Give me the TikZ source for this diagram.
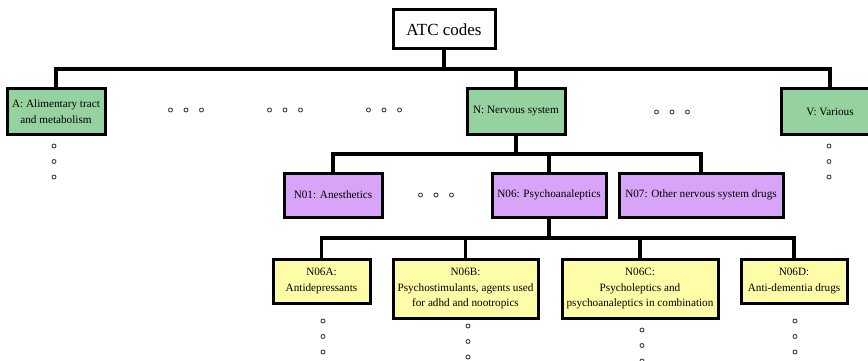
\documentclass[tikz,border=0pt]{standalone}
\usepackage{fontspec}
\setmainfont{Liberation Serif}
\definecolor{cgreen}{HTML}{96D1A0}
\definecolor{cpurple}{HTML}{D8A4F8}
\definecolor{cyellow}{HTML}{FFFCA8}
\definecolor{cdot}{HTML}{444444}
\tikzset{
  box/.style={draw=black, line width=3pt, align=center, inner sep=0pt,
    font=\fontsize{11.2}{15.5}\selectfont, text=black},
  gbox/.style={box, fill=cgreen, minimum height=45pt},
  pbox/.style={box, fill=cpurple, minimum height=44pt},
  ybox/.style={box, fill=cyellow},
  link/.style={line width=3.2pt},
  dotmark/.style={circle, draw=cdot, line width=0.9pt, minimum size=4pt, inner sep=0pt}
}
\newcommand{\hdots}[2]{%
  \node[dotmark] at (#1-15.5,#2) {};
  \node[dotmark] at (#1,#2) {};
  \node[dotmark] at (#1+15.5,#2) {};}
\newcommand{\vdotsat}[2]{%
  \node[dotmark] at (#1,#2) {};
  \node[dotmark] at (#1,#2+15.5) {};
  \node[dotmark] at (#1,#2+31) {};}
\begin{document}
\begin{tikzpicture}[x=1pt,y=-1pt]
\useasboundingbox (0,0) rectangle (868,361);
\clip (0,0) rectangle (868,361);
% bus coordinates
\coordinate (b1) at (444,69);
\coordinate (b2) at (516,154);
\coordinate (b3) at (549,238);
% nodes
\node[box, fill=white, minimum width=102pt, minimum height=39pt, font=\fontsize{17}{20}\selectfont] (atc) at (444,29.5) {ATC codes};
\node[gbox, minimum width=98pt] (A) at (56,111.5) {A: Alimentary tract\\and metabolism};
\node[gbox, minimum width=98pt] (N) at (516,111.5) {N: Nervous system};
\node[gbox, minimum width=98pt] (V) at (830,111.5) {V: Various};
\node[pbox, minimum width=98pt] (N01) at (333,195) {N01: Anesthetics};
\node[pbox, minimum width=114pt] (N06) at (549,195) {N06: Psychoanaleptics};
\node[pbox, minimum width=164pt] (N07) at (701,195) {N07: Other nervous system drugs};
\node[ybox, minimum width=97pt, minimum height=44pt] (N06A) at (321.5,281) {N06A:\\Antidepressants};
\node[ybox, minimum width=145pt, minimum height=59pt] (N06B) at (465.5,288.5) {N06B:\\Psychostimulants, agents used\\for adhd and nootropics};
\node[ybox, minimum width=156pt, minimum height=59pt] (N06C) at (640,288.5) {N06C:\\Psycholeptics and\\psychoanaleptics in combination};
\node[ybox, minimum width=106pt, minimum height=44pt] (N06D) at (794,281) {N06D:\\Anti-dementia drugs};
% connectors
\draw[link] (atc.south) -- (atc.south |- b1);
\draw[link] (A.north) |- (b1) -| (V.north);
\draw[link] (N.north) -- (N.north |- b1);
\draw[link] (N.south) -- (N.south |- b2);
\draw[link] (N01.north) |- (b2) -| (N07.north);
\draw[link] (N06.north) -- (N06.north |- b2);
\draw[link] (N06.south) -- (N06.south |- b3);
\draw[link] (N06A.north) |- (b3) -| (N06D.north);
\draw[link] (N06B.north) -- (N06B.north |- b3);
\draw[link] (N06C.north) -- (N06C.north |- b3);
% dots
\hdots{186}{110}
\hdots{285}{110}
\hdots{384}{110}
\hdots{672}{112}
\hdots{436}{195}
\vdotsat{54}{146}
\vdotsat{829}{146}
\vdotsat{323}{321}
\vdotsat{468}{326}
\vdotsat{642}{330}
\vdotsat{795}{321}
\end{tikzpicture}
\end{document}
